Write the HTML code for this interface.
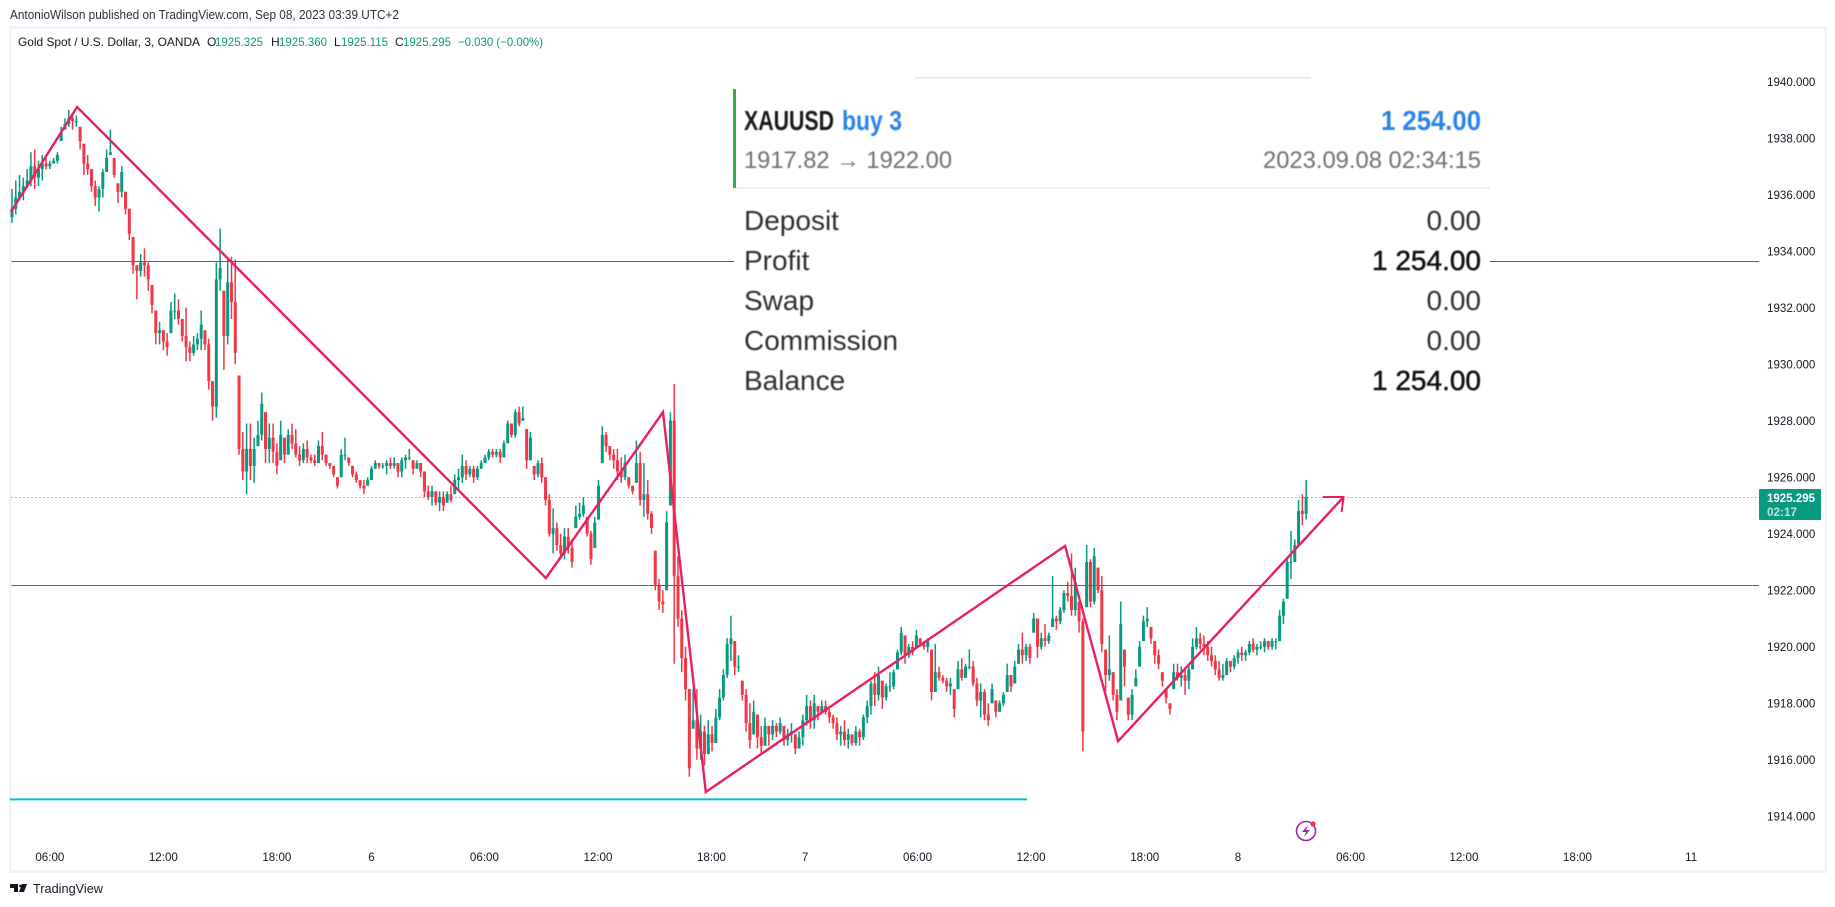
<!DOCTYPE html>
<html lang="en">
<head>
<meta charset="utf-8">
<title>XAUUSD chart</title>
<style>
html,body{margin:0;padding:0;background:#fff;width:1835px;height:907px;overflow:hidden}
svg{display:block;font-family:"Liberation Sans",sans-serif}
</style>
</head>
<body>
<svg id="chart" xmlns="http://www.w3.org/2000/svg" width="1835" height="907" viewBox="0 0 1835 907">
  <rect x="0" y="0" width="1835" height="907" fill="#ffffff"/>
  <text x="10" y="19" font-size="12.5" fill="#2a2e39" textLength="389" lengthAdjust="spacingAndGlyphs">AntonioWilson published on TradingView.com, Sep 08, 2023 03:39 UTC+2</text>
  <rect x="9" y="26" width="1818" height="3" fill="#f0f3fa"/>
  <rect x="9" y="26" width="2.4" height="846" fill="#f0f3fa"/>
  <rect x="1824.5" y="26" width="2.4" height="846" fill="#f0f3fa"/>
  <rect x="9" y="870" width="1818" height="3" fill="#f0f3fa"/>
  <g font-size="12" fill="#131722">
    <text x="18" y="46" textLength="182" lengthAdjust="spacingAndGlyphs">Gold Spot / U.S. Dollar, 3, OANDA</text>
    <text x="207" y="46">O</text>
    <text x="215" y="46" fill="#089981" textLength="48" lengthAdjust="spacingAndGlyphs">1925.325</text>
    <text x="271" y="46">H</text>
    <text x="279" y="46" fill="#089981" textLength="48" lengthAdjust="spacingAndGlyphs">1925.360</text>
    <text x="334" y="46">L</text>
    <text x="341" y="46" fill="#089981" textLength="47" lengthAdjust="spacingAndGlyphs">1925.115</text>
    <text x="395" y="46">C</text>
    <text x="403" y="46" fill="#089981" textLength="48" lengthAdjust="spacingAndGlyphs">1925.295</text>
    <text x="458" y="46" fill="#089981" textLength="85" lengthAdjust="spacingAndGlyphs">−0.030 (−0.00%)</text>
  </g>
  <g id="plot"></g>
  <g>
    <rect x="734" y="76" width="756" height="328" fill="#ffffff"/>
    <rect x="915" y="77" width="396" height="1.4" fill="#e4e4e4"/>
    <rect x="733" y="89" width="3" height="99" fill="#2bb24c"/>
    <rect x="736" y="187" width="754" height="2" fill="#efefef"/>
    <g style="filter:blur(.5px)">
      <text x="744" y="130" font-size="28" font-weight="700" fill="#1a1a1a" textLength="90" lengthAdjust="spacingAndGlyphs">XAUUSD</text>
      <text x="842" y="130" font-size="28" font-weight="700" fill="#2a84e8" textLength="60" lengthAdjust="spacingAndGlyphs">buy 3</text>
      <text x="1381" y="130" font-size="28" font-weight="700" fill="#2a84e8" textLength="100" lengthAdjust="spacingAndGlyphs">1 254.00</text>
      <text x="744" y="168" font-size="24" fill="#707070" textLength="208" lengthAdjust="spacingAndGlyphs">1917.82 → 1922.00</text>
      <text x="1263" y="168" font-size="24" fill="#707070" textLength="218" lengthAdjust="spacingAndGlyphs">2023.09.08 02:34:15</text>
      <g font-size="28" fill="#2e2e2e">
        <text x="744" y="230">Deposit</text>
        <text x="744" y="270">Profit</text>
        <text x="744" y="310">Swap</text>
        <text x="744" y="350">Commission</text>
        <text x="744" y="390">Balance</text>
        <text x="1481" y="230" text-anchor="end">0.00</text>
        <text x="1481" y="270" text-anchor="end" fill="#111" stroke="#111" stroke-width=".5">1 254.00</text>
        <text x="1481" y="310" text-anchor="end">0.00</text>
        <text x="1481" y="350" text-anchor="end">0.00</text>
        <text x="1481" y="390" text-anchor="end" fill="#111" stroke="#111" stroke-width=".5">1 254.00</text>
      </g>
    </g>
  </g>
  <g id="price-axis"></g>
  <g id="time-axis"></g>
  <g>
    <rect x="1759" y="489" width="62" height="31" rx="1" fill="#089981"/>
    <text x="1767" y="502" font-size="12" font-weight="700" fill="#ffffff" textLength="48" lengthAdjust="spacingAndGlyphs">1925.295</text>
    <text x="1767" y="516" font-size="12" font-weight="700" fill="#bfe6dd" textLength="30" lengthAdjust="spacingAndGlyphs">02:17</text>
  </g>
  <g>
    <circle cx="1306" cy="831" r="9.5" fill="#ffffff" stroke="#9c27b0" stroke-width="1.6"/>
    <polygon points="1308,825 1302,832 1306,832 1304,837 1310,830 1306,830" fill="#9c27b0"/>
    <circle cx="1313" cy="824" r="2.6" fill="#f23645"/>
  </g>
  <g>
    <path d="M10 884h8v8h-4v-4h-4z M19 892l3-8h5l-3 8z" fill="#131722"/>
    <circle cx="20.5" cy="886" r="1.4" fill="#131722"/>
    <text x="33" y="893" font-size="13" fill="#131722" textLength="70" lengthAdjust="spacingAndGlyphs">TradingView</text>
  </g>
</svg>
<script>
const highs = [
1936.2,1936.5,1936.7,1936.6,1936.9,1937.5,1937.6,1937.2,1937.4,1937.3,
1937.2,1937.3,1937.5,1938.4,1938.7,1939.0,1938.9,1938.8,1938.4,1937.8,
1937.4,1936.9,1936.5,1936.3,1936.9,1937.6,1938.3,1937.3,1936.4,1937.0,
1936.1,1935.5,1934.5,1933.5,1933.9,1934.1,1933.6,1932.8,1931.9,1931.5,
1931.2,1931.1,1932.2,1932.5,1932.3,1931.6,1932.0,1930.8,1931.0,1931.1,
1931.9,1931.2,1930.9,1929.4,1933.6,1934.8,1932.6,1933.7,1933.8,1933.7,
1929.6,1927.6,1927.9,1927.9,1927.4,1928.0,1929.0,1928.3,1927.9,1927.9,
1927.2,1928.0,1927.4,1927.7,1927.9,1927.7,1927.1,1927.2,1927.3,1926.8,
1926.8,1927.3,1927.6,1926.8,1926.5,1926.4,1926.0,1927.0,1927.4,1926.7,
1926.4,1926.2,1925.9,1925.9,1926.0,1926.4,1926.6,1926.5,1926.5,1926.6,
1926.7,1926.7,1926.5,1926.7,1926.8,1927.0,1926.6,1926.6,1926.5,1926.2,
1925.7,1925.7,1925.5,1925.5,1925.5,1925.5,1925.7,1926.1,1926.3,1926.8,
1926.6,1926.4,1926.4,1926.4,1926.6,1926.8,1927.0,1927.0,1927.0,1927.0,
1927.3,1928.0,1927.9,1928.4,1928.5,1928.5,1927.7,1927.6,1926.4,1926.6,
1926.7,1926.0,1925.4,1924.9,1924.4,1924.0,1924.2,1924.2,1923.8,1925.0,
1925.1,1925.3,1924.6,1924.1,1924.6,1925.9,1927.8,1927.6,1927.1,1927.0,
1927.0,1926.7,1926.8,1926.0,1925.7,1927.3,1926.9,1926.5,1925.9,1924.8,
1923.4,1922.4,1922.0,1924.8,1928.3,1929.3,1923.2,1921.3,1920.0,1918.5,
1918.5,1918.5,1917.6,1917.2,1917.4,1917.2,1917.8,1918.5,1919.2,1920.3,
1921.1,1920.2,1919.7,1918.8,1918.5,1918.0,1918.1,1917.6,1917.2,1917.5,
1917.2,1917.4,1917.3,1917.5,1917.2,1917.1,1917.3,1916.9,1917.0,1917.6,
1918.3,1918.1,1918.3,1917.9,1918.1,1918.1,1917.8,1917.6,1917.5,1917.2,
1917.4,1917.1,1916.9,1917.2,1917.1,1917.6,1918.1,1918.8,1919.1,1919.3,
1918.8,1918.7,1919.1,1919.2,1919.9,1920.7,1920.4,1920.1,1920.2,1920.6,
1920.3,1920.2,1920.3,1919.9,1920.1,1919.3,1919.0,1918.9,1918.9,1918.5,
1919.5,1919.6,1919.4,1919.9,1919.5,1918.9,1918.7,1918.5,1918.0,1918.7,
1918.1,1918.1,1918.4,1919.4,1919.0,1919.5,1920.1,1920.5,1920.1,1920.1,
1921.2,1921.0,1920.5,1920.8,1920.5,1922.5,1921.1,1921.4,1922.0,1922.3,
1923.3,1922.8,1921.6,1921.0,1923.6,1923.1,1923.5,1922.8,1922.5,1919.9,
1920.4,1919.1,1918.5,1921.6,1919.9,1918.2,1918.5,1919.2,1920.2,1921.1,
1921.4,1920.7,1920.2,1919.9,1919.1,1918.5,1918.0,1919.4,1919.4,1919.3,
1919.2,1919.4,1920.3,1920.7,1920.5,1920.4,1920.2,1920.0,1919.7,1919.5,
1919.4,1919.6,1919.5,1919.7,1919.9,1920.0,1919.9,1920.2,1920.3,1920.1,
1920.2,1920.3,1920.2,1920.3,1920.3,1921.3,1921.7,1923.1,1924.1,1923.8,1925.2,1925.4,1925.9
];
const lows = [
1935.0,1935.3,1935.8,1935.8,1936.3,1936.3,1936.2,1936.3,1936.5,1936.9,
1936.9,1937.1,1937.1,1937.9,1938.3,1938.4,1938.3,1938.4,1937.6,1936.7,
1936.7,1936.1,1935.6,1935.4,1935.9,1936.8,1937.4,1936.6,1935.7,1935.9,
1935.3,1934.4,1933.2,1932.3,1933.1,1933.1,1932.6,1931.8,1930.7,1930.7,
1930.5,1930.3,1931.1,1931.6,1931.4,1930.8,1930.1,1930.1,1930.3,1930.5,
1930.5,1930.5,1929.1,1928.0,1928.1,1932.6,1929.8,1930.7,1931.6,1930.0,
1926.8,1925.9,1925.4,1925.9,1925.8,1927.1,1927.3,1926.5,1926.5,1926.5,
1926.1,1926.6,1926.5,1926.8,1927.0,1926.7,1926.4,1926.5,1926.5,1926.5,
1926.4,1926.5,1926.6,1926.4,1926.3,1926.0,1925.6,1926.0,1926.6,1926.4,
1926.0,1925.8,1925.6,1925.4,1925.7,1925.9,1926.3,1926.3,1926.3,1926.1,
1926.3,1926.3,1926.0,1926.0,1926.3,1926.6,1926.1,1926.3,1926.0,1925.3,
1925.2,1925.0,1925.0,1924.8,1924.8,1925.1,1925.1,1925.4,1925.5,1925.8,
1925.9,1926.0,1925.8,1925.9,1926.3,1926.5,1926.6,1926.7,1926.7,1926.5,
1926.7,1927.2,1927.4,1927.4,1927.8,1928.0,1926.3,1926.6,1925.9,1926.0,
1925.8,1925.0,1923.9,1923.3,1923.4,1923.1,1923.1,1923.3,1922.8,1924.2,
1924.5,1924.6,1923.9,1922.9,1923.5,1924.5,1926.5,1926.9,1926.6,1926.3,
1925.9,1925.8,1925.9,1925.6,1925.4,1925.8,1925.0,1924.6,1924.5,1924.0,
1922.0,1921.3,1921.2,1922.0,1925.0,1919.4,1920.7,1919.1,1918.1,1915.4,
1917.1,1916.0,1916.0,1915.8,1916.2,1916.3,1916.6,1917.4,1918.1,1918.9,
1919.5,1919.0,1919.1,1918.1,1917.0,1916.4,1916.9,1916.4,1916.2,1916.5,
1916.5,1916.7,1916.8,1916.9,1916.5,1916.5,1916.6,1916.2,1916.4,1916.5,
1917.2,1917.1,1917.1,1917.4,1917.7,1917.6,1917.3,1917.1,1916.7,1916.5,
1916.5,1916.4,1916.5,1916.5,1916.5,1916.7,1917.3,1917.6,1917.9,1918.1,
1917.8,1918.1,1918.4,1918.5,1919.2,1919.7,1919.4,1919.6,1919.7,1920.0,
1920.0,1919.9,1919.8,1918.1,1918.4,1918.8,1918.7,1918.4,1918.3,1917.5,
1918.5,1918.8,1918.9,1919.2,1918.6,1917.9,1917.5,1917.4,1917.2,1918.0,
1917.5,1917.7,1917.9,1918.4,1918.4,1918.7,1919.4,1919.4,1919.5,1919.4,
1920.5,1919.6,1919.9,1920.0,1920.1,1920.7,1920.6,1920.8,1921.2,1921.6,
1921.1,1921.1,1920.5,1916.3,1921.4,1921.4,1921.5,1921.9,1919.8,1918.4,
1918.8,1918.1,1917.4,1918.1,1918.6,1917.4,1917.4,1918.6,1919.3,1920.2,
1920.7,1920.1,1919.4,1919.2,1918.6,1918.0,1917.6,1918.5,1918.8,1918.6,
1918.3,1918.5,1919.2,1919.9,1919.9,1919.7,1919.5,1919.3,1919.0,1918.8,
1918.8,1919.0,1919.1,1919.2,1919.4,1919.5,1919.5,1919.7,1919.8,1919.7,
1919.9,1919.8,1919.9,1919.9,1919.9,1920.2,1920.8,1921.7,1922.4,1923.0,1923.6,1924.3,1924.5
];
const closes = [
1935.5,1935.9,1936.1,1936.3,1936.5,1937.0,1936.6,1936.9,1937.1,1937.0,
1937.1,1937.2,1937.4,1938.2,1938.5,1938.7,1938.6,1938.6,1937.9,1937.1,
1936.9,1936.3,1935.9,1936.2,1936.8,1937.3,1937.5,1936.7,1936.1,1936.8,
1935.5,1934.6,1933.5,1933.3,1933.6,1933.5,1933.0,1932.1,1931.1,1931.2,
1930.8,1930.6,1931.9,1931.9,1931.6,1931.0,1930.6,1930.4,1930.7,1930.9,
1931.4,1930.7,1929.4,1928.5,1933.0,1933.4,1931.0,1932.9,1932.2,1930.4,
1927.0,1926.2,1927.0,1926.4,1927.0,1927.5,1928.6,1927.0,1927.4,1926.9,
1926.4,1927.5,1926.8,1927.5,1927.2,1926.8,1926.6,1927.0,1926.7,1926.6,
1926.5,1927.1,1926.8,1926.5,1926.4,1926.1,1925.7,1926.8,1926.8,1926.5,
1926.1,1925.9,1925.7,1925.6,1925.9,1926.3,1926.5,1926.4,1926.4,1926.5,
1926.4,1926.5,1926.2,1926.6,1926.7,1926.7,1926.3,1926.5,1926.2,1925.5,
1925.3,1925.5,1925.1,1925.3,1925.0,1925.4,1925.2,1925.9,1926.0,1926.4,
1926.1,1926.3,1926.0,1926.3,1926.5,1926.7,1926.9,1926.8,1926.9,1926.7,
1927.2,1927.9,1927.5,1928.3,1927.9,1928.1,1926.6,1927.4,1926.1,1926.5,
1926.0,1925.2,1924.0,1924.2,1923.6,1923.3,1923.9,1923.5,1923.0,1924.6,
1924.7,1925.0,1924.0,1923.1,1924.4,1925.7,1927.5,1927.1,1926.8,1926.6,
1926.2,1926.0,1926.5,1925.7,1925.5,1926.5,1925.2,1925.4,1924.7,1924.2,
1922.2,1921.6,1921.5,1924.4,1928.0,1922.5,1921.0,1919.6,1918.5,1915.7,
1917.4,1916.4,1917.0,1916.2,1916.9,1916.6,1917.5,1918.2,1919.0,1920.1,
1920.3,1919.3,1919.3,1918.3,1917.3,1916.7,1917.7,1916.8,1916.5,1917.2,
1916.9,1917.2,1917.0,1917.3,1916.7,1916.9,1917.0,1916.4,1916.8,1917.4,
1917.9,1917.4,1918.0,1917.7,1917.9,1917.7,1917.5,1917.3,1916.9,1917.0,
1916.7,1916.9,1916.6,1917.0,1916.8,1917.5,1917.9,1918.7,1918.3,1919.0,
1918.2,1918.6,1918.6,1919.1,1919.8,1920.5,1919.7,1920.0,1919.8,1920.4,
1920.1,1920.0,1920.2,1918.4,1919.1,1918.9,1918.8,1918.6,1918.7,1917.8,
1919.2,1918.9,1919.3,1919.3,1918.7,1918.1,1918.4,1917.6,1917.4,1918.5,
1917.7,1918.0,1918.3,1919.0,1918.6,1919.3,1919.9,1919.7,1920.0,1919.6,
1921.0,1920.0,1920.3,1920.2,1920.4,1921.0,1920.9,1921.3,1921.9,1921.8,
1921.3,1922.3,1920.9,1917.0,1923.0,1921.6,1923.2,1922.0,1920.1,1919.0,
1919.2,1918.3,1917.7,1920.8,1919.3,1917.6,1918.3,1918.9,1920.0,1920.9,
1921.0,1920.3,1919.7,1919.4,1918.8,1918.2,1917.8,1919.1,1918.9,1919.0,
1918.8,1919.2,1920.0,1920.3,1920.1,1920.0,1919.7,1919.5,1919.2,1918.9,
1919.0,1919.5,1919.3,1919.6,1919.8,1919.7,1919.8,1920.1,1919.9,1920.0,
1920.0,1920.2,1920.0,1920.2,1920.2,1921.1,1921.6,1923.0,1923.0,1923.6,1924.8,1924.7,1925.295
];
const barHours = 0.2;
const priceTicks = [1940,1938,1936,1934,1932,1930,1928,1926,1924,1922,1920,1918,1916,1914];
const timeTickHours = [2,8,14,19,24.97,30.97,36.97,41.92,47.86,53.86,59.87,64.8,70.75,76.74,82.74,88.75];
const timeTickLabels = ['06:00','12:00','18:00','6','06:00','12:00','18:00','7','06:00','12:00','18:00','8','06:00','12:00','18:00','11'];
const zigzagHours = [-0.05,3.44,28.22,34.41,36.67,55.66,58.46,70.38];
const zigzagPrices = [1935.4,1939.1,1922.43,1928.3,1914.86,1923.57,1916.66,1925.3];
const levelPrices = [1933.65,1922.2];
const supportPrice = 1914.6;
const supportEndHour = 53.65;
const lastPrice = 1925.295;

const NS = 'http://www.w3.org/2000/svg';
const UP = '#089981', DOWN = '#f23645';
function xScale(h){ return 12 + 18.92*h; }
function yScale(p){ return 420.7 + (1928-p)*28.26; }
function snap(v){ return Math.round(v)+0.5; }
function make(tag, attrs, parent){
  const el = document.createElementNS(NS, tag);
  for (const k in attrs) el.setAttribute(k, attrs[k]);
  parent.appendChild(el);
  return el;
}
const plot = document.getElementById('plot');
const priceAxis = document.getElementById('price-axis');
const timeAxis = document.getElementById('time-axis');

closes.forEach(function(c, i){
  const o = i === 0 ? 1935.2 : closes[i-1];
  const x = xScale(i*barHours);
  const color = c >= o ? UP : DOWN;
  const g = make('g', {}, plot);
  
  
  const hi = Math.max(highs[i], c);
  const lo = Math.min(lows[i], c);
  const wick = make('line', {x1:x, x2:x, y1:yScale(hi), y2:yScale(lo), stroke:color, 'stroke-width':1.5}, g);
  
  
  const bTop = Math.max(Math.min(Math.max(o,c), hi), lo);
  const bBot = Math.min(Math.max(Math.min(o,c), lo), hi);
  const body = make('rect', {x:x-1.5, y:yScale(bTop), width:3, height:Math.max(1, yScale(bBot)-yScale(bTop)), fill:color}, g);
  
  
});

levelPrices.forEach(function(p){
  const ln = make('line', {x1:11.4, x2:1759, y1:snap(yScale(p)), y2:snap(yScale(p)), stroke:'#2962ff', 'stroke-width':1}, plot);
  
  
});

const lastLine = make('line', {x1:11.4, x2:1759, y1:snap(yScale(lastPrice)), y2:snap(yScale(lastPrice)), stroke:UP, 'stroke-width':1, 'stroke-dasharray':'1 3'}, plot);



const support = make('line', {x1:xScale(-0.1), x2:xScale(supportEndHour), y1:yScale(supportPrice), y2:yScale(supportPrice), stroke:'#00bcd4', 'stroke-width':2}, plot);



const zigPts = zigzagHours.map(function(h,i){ return xScale(h).toFixed(1)+','+yScale(zigzagPrices[i]).toFixed(1); }).join(' ');
const zig = make('polyline', {points:zigPts, fill:'none', stroke:'#e91e63', 'stroke-width':2.4, 'stroke-linejoin':'miter'}, plot);



const tipX = xScale(zigzagHours[zigzagHours.length-1]);
const tipY = yScale(zigzagPrices[zigzagPrices.length-1]);
const head = make('polyline', {points:(tipX-21)+','+tipY+' '+tipX+','+tipY+' '+(tipX-2)+','+(tipY+15), fill:'none', stroke:'#e91e63', 'stroke-width':2}, plot);



priceTicks.forEach(function(p){
  const t = make('text', {x:1767, y:yScale(p)+4.2, 'font-size':11.6, fill:'#131722'}, priceAxis);
  
  
  t.textContent = p.toFixed(3);
});

timeTickHours.forEach(function(h,i){
  const t = make('text', {x:xScale(h), y:861, 'font-size':11.6, fill:'#131722', 'text-anchor':'middle'}, timeAxis);
  
  
  t.textContent = timeTickLabels[i];
});
</script>
</body>
</html>
